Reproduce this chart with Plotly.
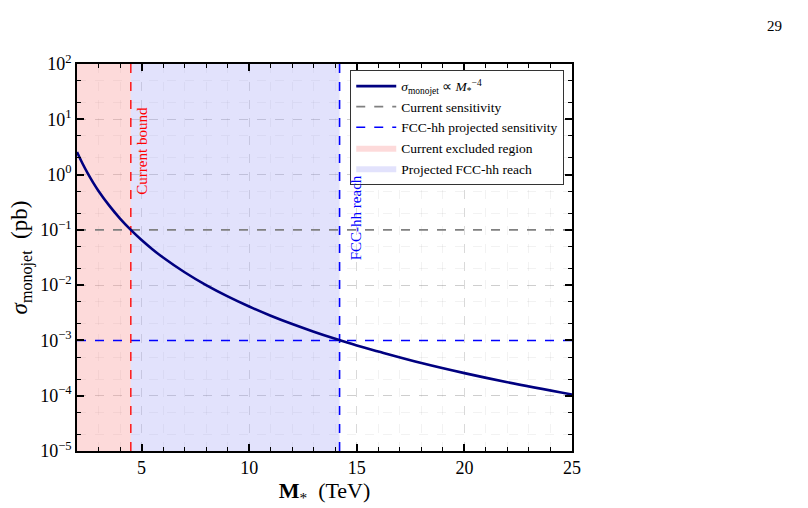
import plotly.graph_objects as go

# Data
mass_tev = [2, 2.25, 2.5, 2.75, 3, 3.5, 4, 4.5, 5, 5.5, 6, 7, 8, 9, 10, 11, 12, 13, 14, 15, 16, 18, 20, 22, 25]
sigma_pb = [2.56, 1.60, 1.05, 0.717, 0.506, 0.274, 0.160, 0.100, 0.0656, 0.0448, 0.0316,
            0.0171, 0.0100, 0.00625, 0.0041, 0.0028, 0.00198, 0.00144, 0.00107, 0.00081,
            0.00063, 0.00039, 0.000256, 0.000175, 0.000105]
current_sensitivity = 0.1
fcc_sensitivity = 1e-3
current_bound = 4.5
fcc_reach = 14.2
x_range = [2, 25]
y_range = [1e-5, 1e2]
y_tickvals = [1e-5, 1e-4, 1e-3, 1e-2, 1e-1, 1e0, 1e1, 1e2]
y_ticktext = ["10<sup>−5</sup>", "10<sup>−4</sup>", "10<sup>−3</sup>", "10<sup>−2</sup>",
              "10<sup>−1</sup>", "10<sup>0</sup>", "10<sup>1</sup>", "10<sup>2</sup>"]

FONT = "Liberation Serif"

fig = go.Figure()

# regions
fig.add_trace(go.Scatter(
    x=[x_range[0], current_bound, current_bound, x_range[0], x_range[0]],
    y=[y_range[0], y_range[0], y_range[1], y_range[1], y_range[0]],
    fill="toself", fillcolor="rgba(250,150,150,0.35)", line=dict(width=0),
    mode="lines", name="Current excluded region", legendrank=4, hoverinfo="skip"))
fig.add_trace(go.Scatter(
    x=[current_bound, fcc_reach, fcc_reach, current_bound, current_bound],
    y=[y_range[0], y_range[0], y_range[1], y_range[1], y_range[0]],
    fill="toself", fillcolor="rgba(160,160,245,0.30)", line=dict(width=0),
    mode="lines", name="Projected FCC-hh reach", legendrank=5, hoverinfo="skip"))

# horizontal sensitivity lines
fig.add_trace(go.Scatter(x=x_range, y=[current_sensitivity] * 2, mode="lines",
                         line=dict(color="#808080", width=1.6, dash="dash"),
                         name="Current sensitivity", legendrank=2))
fig.add_trace(go.Scatter(x=x_range, y=[fcc_sensitivity] * 2, mode="lines",
                         line=dict(color="#0000ff", width=1.6, dash="dash"),
                         name="FCC-hh projected sensitivity", legendrank=3))
# vertical lines
fig.add_trace(go.Scatter(x=[current_bound] * 2, y=y_range, mode="lines",
                         line=dict(color="rgba(255,0,0,0.85)", width=1.6, dash="dash"),
                         showlegend=False))
fig.add_trace(go.Scatter(x=[fcc_reach] * 2, y=y_range, mode="lines",
                         line=dict(color="#0000ff", width=1.6, dash="dash"),
                         showlegend=False))

# curve
fig.add_trace(go.Scatter(x=mass_tev, y=sigma_pb, mode="lines", line_shape="spline",
                         line=dict(color="#000080", width=2.6), legendrank=1,
                         name="<i>σ</i><sub>monojet</sub> ∝ <i>M</i><sub>*</sub><sup>−4</sup>"))

axis_common = dict(
    showline=True, linecolor="black", linewidth=1.6, mirror="allticks",
    ticks="inside", ticklen=7, tickwidth=1.5, tickcolor="black",
    showgrid=True, gridcolor="rgba(0,0,0,0.15)", griddash="dash", gridwidth=0.8,
    zeroline=False,
    tickfont=dict(family=FONT, size=18, color="black"),
)

fig.update_xaxes(range=x_range, tick0=0, dtick=5, **axis_common,
                 minor=dict(ticks="inside", ticklen=4, tickwidth=1, tickcolor="black",
                            dtick=1, showgrid=True, gridcolor="rgba(0,0,0,0.05)",
                            griddash="dash", gridwidth=0.6),
                 title=dict(text="<b>M</b><sub>*</sub>  (TeV)", standoff=2,
                            font=dict(family=FONT, size=22, color="black")))
fig.update_yaxes(type="log", range=[-5, 2], tickvals=y_tickvals, ticktext=y_ticktext,
                 **axis_common,
                 minor=dict(ticks="inside", ticklen=4, tickwidth=1, tickcolor="black",
                            showgrid=True, gridcolor="rgba(0,0,0,0.05)", griddash="dash",
                            gridwidth=0.6),
                 title=dict(text="<i>σ</i><sub>monojet</sub>  (pb)", standoff=6,
                            font=dict(family=FONT, size=23, color="black")))

# texts
fig.add_annotation(x=current_bound + 0.05, y=0.43, text="Current bound", textangle=-90,
                   showarrow=False, xanchor="left", yanchor="middle",
                   font=dict(family=FONT, size=15, color="#ff0000"))
fig.add_annotation(x=fcc_reach + 0.3, y=-0.79, text="FCC-hh reach", textangle=-90,
                   showarrow=False, xanchor="left", yanchor="middle",
                   font=dict(family=FONT, size=15, color="#0000ff"))
fig.add_annotation(xref="paper", yref="paper", x=1.428, y=1.125, text="29",
                   showarrow=False, font=dict(family=FONT, size=15, color="black"))

fig.update_layout(
    width=808, height=508,
    margin=dict(l=77, r=236, t=64, b=53),
    plot_bgcolor="white", paper_bgcolor="white",
    font=dict(family=FONT, color="black"),
    legend=dict(x=0.552, y=0.985, xanchor="left", yanchor="top",
                bgcolor="white", bordercolor="#333333", borderwidth=1,
                font=dict(family=FONT, size=13.5, color="black"),
                tracegroupgap=0, itemwidth=40),
    showlegend=True,
)

fig.write_html("out.html")
